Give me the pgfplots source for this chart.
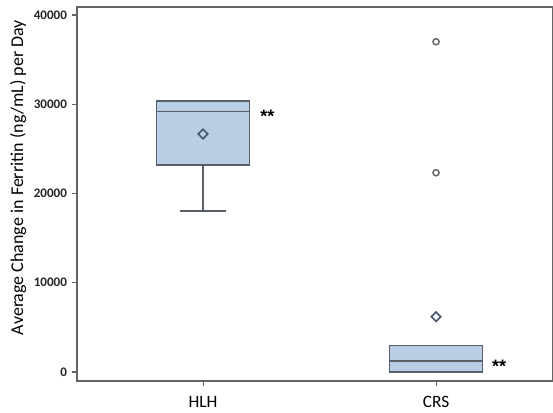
\documentclass[border=0pt]{standalone}
\usepackage{pgfplots}
\pgfplotsset{compat=1.18}
\usepackage{fontspec}
\setmainfont{Carlito}
\newfontfamily\astfont{Liberation Sans}
\definecolor{boxfill}{RGB}{185,205,229}
\definecolor{boxedge}{RGB}{88,94,106}
\definecolor{framec}{RGB}{100,100,100}
\definecolor{meanc}{RGB}{70,84,105}
\definecolor{outc}{RGB}{110,110,110}
\begin{document}
\begin{tikzpicture}
\path[use as bounding box] (0,0) rectangle (414.75pt,309pt);
\begin{axis}[
  at={(57.75pt,23.25pt)}, anchor=south west,
  scale only axis, width=357pt, height=280.5pt,
  xmin=0.459, xmax=2.502, ymin=-1008, ymax=40896,
  xtick={1,2}, xticklabels={HLH,CRS},
  ytick={0,10000,20000,30000,40000},
  scaled y ticks=false,
  /pgf/number format/assume math mode=true,
  /pgf/number format/fixed,
  /pgf/number format/1000 sep={},
  xtick pos=bottom, ytick pos=left,
  tick align=outside, major tick length=4pt,
  tick style={framec, line width=0.8pt},
  axis line style={framec, line width=1pt},
  yticklabel style={font=\fontsize{9.8}{11}\selectfont\bfseries, text=black!85},
  xticklabel style={font=\fontsize{13}{15}\selectfont, yshift=-4pt},
  every axis y label/.style={at={(axis description cs:-0.124,0.544)}, rotate=90, anchor=center, font=\fontsize{13.5}{15}\selectfont},
  ylabel={Average Change in Ferritin (ng/mL) per Day},
  clip=false,
]
% HLH box
\addplot[fill=boxfill, draw=boxedge, line width=1pt] coordinates {(0.8,23190) (1.2,23190) (1.2,30364) (0.8,30364)} -- cycle;
\addplot[draw=boxedge, line width=1pt] coordinates {(0.8,29160) (1.2,29160)};
\addplot[draw=boxedge, line width=1pt] coordinates {(1,23190) (1,18040)};
\addplot[draw=boxedge, line width=1pt] coordinates {(0.9,18040) (1.1,18040)};
\addplot[draw=boxedge, line width=1.2pt] coordinates {(0.9,30364) (1.1,30364)};
% CRS box
\addplot[fill=boxfill, draw=boxedge, line width=1pt] coordinates {(1.8,0) (2.2,0) (2.2,2990) (1.8,2990)} -- cycle;
\addplot[draw=boxedge, line width=1pt] coordinates {(1.8,1230) (2.2,1230)};
\addplot[draw=boxedge, line width=1.2pt] coordinates {(1.9,2990) (2.1,2990)};
\addplot[draw=boxedge, line width=1.2pt] coordinates {(1.9,0) (2.1,0)};
% means
\addplot[only marks, mark=square, mark size=2.5pt, mark options={rotate=45, draw=meanc, fill=none, line width=1.2pt}] coordinates {(1,26670) (2,6200)};
% outliers
\addplot[only marks, mark=o, mark size=2.3pt, mark options={draw=outc, line width=1.2pt}] coordinates {(2,37000) (2,22330)};
\node[anchor=base west, inner sep=0pt, font=\astfont\bfseries\fontsize{13.5}{16}\selectfont] at (axis cs:1.245,27950) {**};
\node[anchor=base west, inner sep=0pt, font=\astfont\bfseries\fontsize{13.5}{16}\selectfont] at (axis cs:2.240,-50) {**};
\end{axis}
\end{tikzpicture}
\end{document}
